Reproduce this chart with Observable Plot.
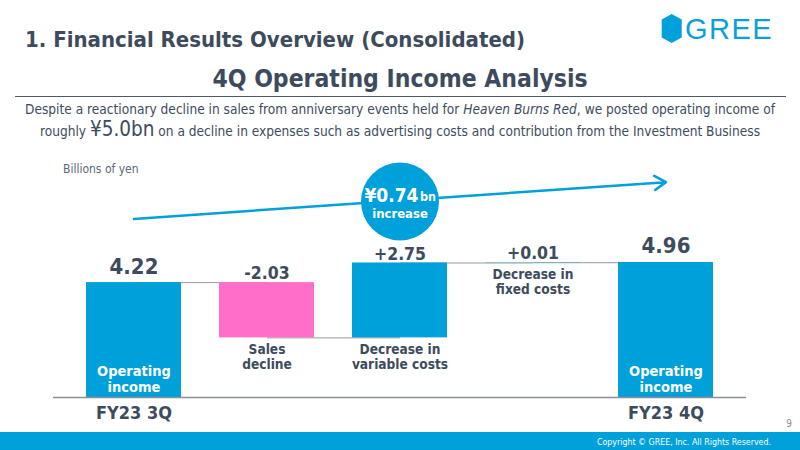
<!DOCTYPE html>
<html><head><meta charset="utf-8">
<script src="https://cdn.jsdelivr.net/npm/d3@7"></script>
<script src="https://cdn.jsdelivr.net/npm/@observablehq/plot@0.6"></script>
<style>
html,body{margin:0;padding:0;background:#fff;}
#page{position:relative;width:800px;height:450px;overflow:hidden;font-family:"DejaVu Sans Condensed","DejaVu Sans",sans-serif;font-stretch:condensed;color:#3d4b5d;}
.abs{position:absolute;white-space:nowrap;line-height:1;}
#title{left:25px;top:29px;font-size:22px;font-weight:bold;}
#heading{left:0;width:800px;text-align:center;top:66.6px;font-size:24.5px;font-weight:bold;}
#rule{left:15px;width:771px;top:95.5px;height:1.5px;background:#4d5868;}
#sub1{left:0;width:800px;text-align:center;top:102.5px;font-size:13.6px;}
#sub2{left:0;width:800px;text-align:center;top:117.9px;font-size:13.6px;line-height:22px;}
#sub2 .big{font-size:20.5px;line-height:22px;}
#logo{left:655px;top:5px;}
#chart{position:absolute;left:0;top:150px;}
#footer{left:0;top:432px;width:800px;height:18px;background:#00a0da;}
#copy{right:29px;top:437.5px;font-size:8.8px;color:#fff;}
#pnum{right:8px;top:419px;font-size:10px;color:#8c8c8c;}
</style></head>
<body>
<div id="page">
  <div id="title" class="abs">1. Financial Results Overview (Consolidated)</div>
  <svg id="logo" class="abs" width="140" height="45" viewBox="0 0 140 45">
    <polygon points="16.7,9 26.7,14.5 26.7,32.5 16.7,38 6.7,32.5 6.7,14.5" fill="#00a0da"/>
    <text x="30" y="34" font-family="Liberation Sans, Arial, sans-serif" font-size="29" letter-spacing="1.5" fill="#0aa0dc">GREE</text>
  </svg>
  <div id="heading" class="abs">4Q Operating Income Analysis</div>
  <div id="rule" class="abs"></div>
  <div id="sub1" class="abs">Despite a reactionary decline in sales from anniversary events held for <i>Heaven Burns Red</i>, we posted operating income of</div>
  <div id="sub2" class="abs">roughly <span class="big">¥5.0bn</span> on a decline in expenses such as advertising costs and contribution from the Investment Business</div>
  <div id="chart"></div>
  <div id="footer" class="abs"></div>
  <div id="copy" class="abs">Copyright © GREE, Inc. All Rights Reserved.</div>
  <div id="pnum" class="abs">9</div>
</div>
<script>
// ---- data ----
const categories = ["3Q", "sales", "variable", "fixed", "4Q"];
const values = [4.22, -2.03, 2.75, 0.01, 4.96];
const isTotal = [true, false, false, false, true];
const valueLabels = ["4.22", "-2.03", "+2.75", "+0.01", "4.96"];
const barLabels = ["Operating\nincome", "Sales\ndecline", "Decrease in\nvariable costs", "Decrease in\nfixed costs", "Operating\nincome"];
const periodLabels = ["FY23 3Q", "", "", "", "FY23 4Q"];
const unitLabel = "Billions of yen";
const changeAmount = "¥0.74";
const changeUnit = "bn";
const changeWord = "increase";

// ---- annotation placement (decorative trend arrow and bubble, in value units) ----
const trendFrom = 6.56, trendTo = 7.91, bubbleAt = 7.2;

const blue = "#00a0da", pink = "#ff6fc9", ink = "#3d4b5d";

let run = 0;
const rows = categories.map((key, i) => {
  const v = values[i];
  let y1, y2;
  if (isTotal[i]) { y1 = 0; y2 = v; } else { y1 = run; y2 = run + v; }
  run = y2;
  return {key, y1, y2, top: Math.max(y1, y2), bottom: Math.min(y1, y2), total: isTotal[i],
    valueLabel: valueLabels[i], barLabel: barLabels[i], period: periodLabels[i], fill: v < 0 ? pink : blue};
});
const links = rows.slice(0, -1).map((r, i) => ({x1: r.key, x2: rows[i + 1].key, level: r.y2}));
const totals = rows.filter(d => d.total);
const deltas = rows.filter(d => !d.total);
const fam = '"DejaVu Sans Condensed","DejaVu Sans",sans-serif';

const chart = Plot.plot({
  width: 800, height: 282,
  marginTop: 27, marginBottom: 35, marginLeft: 53, marginRight: 54,
  style: {fontFamily: fam, fontStretch: "condensed", background: "transparent", overflow: "visible"},
  x: {type: "band", domain: categories, paddingInner: 0.2875, paddingOuter: 0.232, axis: null},
  y: {domain: [0, 8.08], axis: null},
  marks: [
    Plot.link(links, {x1: "x1", x2: "x2", y1: "level", y2: "level", stroke: "#9a9a9a", strokeWidth: 1}),
    Plot.barY(rows, {x: "key", y1: "y1", y2: "y2", fill: "fill"}),
    Plot.ruleY([0], {stroke: "#8a8f96", strokeWidth: 1.5}),
    Plot.text(totals, {x: "key", y: "top", text: "valueLabel", dy: -16, lineAnchor: "middle", fontSize: 22, fontWeight: "bold", fill: ink}),
    Plot.text(deltas, {x: "key", y: "top", text: "valueLabel", dy: -9, lineAnchor: "middle", fontSize: 17.5, fontWeight: "bold", fill: ink}),
    Plot.text(totals, {x: "key", y: 0, text: "barLabel", dy: -18.5, lineAnchor: "middle", lineHeight: 1.1, fontSize: 14.5, fontWeight: "bold", fill: "#fff"}),
    Plot.text(deltas, {x: "key", y: "bottom", text: "barLabel", dy: 19, lineAnchor: "middle", lineHeight: 1.08, fontSize: 13.6, fontWeight: "bold", fill: ink}),
    Plot.text(rows.filter(d => d.period), {x: "key", y: 0, text: "period", dy: 16, lineAnchor: "middle", fontSize: 18, fontWeight: "bold", fill: ink}),
    Plot.text([unitLabel], {frameAnchor: "top-left", text: d => d, dx: 9.5, dy: -8.7, lineAnchor: "middle", textAnchor: "start", fontSize: 12, fill: "#5d6673"}),
    Plot.arrow([{a: categories[0], b: categories[4]}], {x1: "a", x2: "b", y1: () => trendFrom, y2: () => trendTo, stroke: blue, strokeWidth: 2.5, headLength: 8, headAngle: 64}),
    Plot.dot([categories[2]], {x: d => d, y: () => bubbleAt, r: 39, fill: blue}),
    Plot.text([categories[2]], {x: d => d, y: () => bubbleAt, text: () => changeAmount, dx: 18.5, dy: -6, textAnchor: "end", lineAnchor: "middle", fontSize: 19, fontWeight: "bold", fill: "#fff"}),
    Plot.text([categories[2]], {x: d => d, y: () => bubbleAt, text: () => changeUnit, dx: 20, dy: -4, textAnchor: "start", lineAnchor: "middle", fontSize: 12.5, fontWeight: "bold", fill: "#fff"}),
    Plot.text([categories[2]], {x: d => d, y: () => bubbleAt, text: () => changeWord, dy: 12.5, lineAnchor: "middle", fontSize: 13, fontWeight: "bold", fill: "#fff"})
  ]
});
document.getElementById("chart").appendChild(chart);
</script>
</body></html>
